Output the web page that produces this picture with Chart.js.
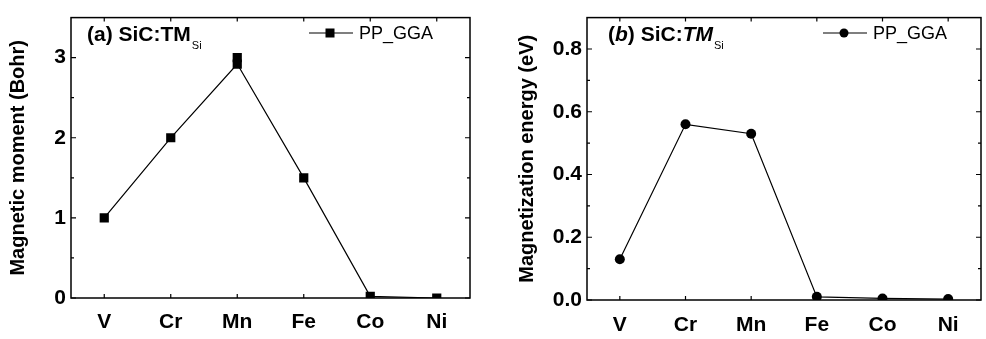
<!DOCTYPE html>
<html>
<head>
<meta charset="utf-8">
<script src="https://cdn.jsdelivr.net/npm/chart.js@4"></script>
<style>
  html, body { margin: 0; padding: 0; background: #fff; }
  .panel { position: absolute; top: 0; height: 339px; }
  #wrapA { left: 0; width: 493px; }
  #wrapB { left: 493px; width: 493px; }
</style>
</head>
<body>
<div class="panel" id="wrapA"><canvas id="chartA"></canvas></div>
<div class="panel" id="wrapB"><canvas id="chartB"></canvas></div>
<script>
const elements = ["V", "Cr", "Mn", "Fe", "Co", "Ni"];
const momentGGA = [1.0, 2.0, 2.92, 1.5, 0.02, 0.0];
const momentMnUpper = [null, null, 3.0, null, null, null];
const energyGGA = [0.13, 0.56, 0.53, 0.01, 0.005, 0.003];
const momentTicks = [0, 1, 2, 3];
const momentMinorTicks = [0.5, 1.5, 2.5];
const energyTicks = [0, 0.2, 0.4, 0.6, 0.8];
const energyMinorTicks = [0.1, 0.3, 0.5, 0.7];

const FONT = "'Liberation Sans', Arial, sans-serif";
Chart.defaults.font.family = FONT;
Chart.defaults.color = "#000";

// frame, inward tick marks, panel label and line+marker legend
const framePlugin = {
    id: "frame",
    afterDraw(chart, args, opts) {
        const ctx = chart.ctx;
        const a = chart.chartArea;
        const x = chart.scales.x, y = chart.scales.y;
        ctx.save();
        ctx.strokeStyle = "#000";
        ctx.lineWidth = 1.5;
        ctx.strokeRect(a.left, a.top, a.right - a.left, a.bottom - a.top);
        ctx.lineWidth = 1.2;
        ctx.beginPath();
        opts.major.forEach(v => {
            const py = y.getPixelForValue(v);
            ctx.moveTo(a.left, py); ctx.lineTo(a.left + 5, py);
            ctx.moveTo(a.right, py); ctx.lineTo(a.right - 5, py);
        });
        opts.minor.forEach(v => {
            const py = y.getPixelForValue(v);
            ctx.moveTo(a.left, py); ctx.lineTo(a.left + 3, py);
            ctx.moveTo(a.right, py); ctx.lineTo(a.right - 3, py);
        });
        elements.forEach((e, i) => {
            const px = x.getPixelForValue(i);
            ctx.moveTo(px, a.bottom); ctx.lineTo(px, a.bottom - 4);
            ctx.moveTo(px, a.top); ctx.lineTo(px, a.top + 4);
        });
        ctx.stroke();

        // panel label
        ctx.fillStyle = "#000";
        ctx.textBaseline = "alphabetic";
        ctx.textAlign = "left";
        const big = "bold 21px " + FONT;
        const it = opts.italic ? "italic " : "";
        let tx = opts.labelX;
        ctx.font = big;
        ctx.fillText("(", tx, 41);
        tx += ctx.measureText("(").width;
        ctx.font = it + big;
        ctx.fillText(opts.tag, tx, 41);
        tx += ctx.measureText(opts.tag).width;
        ctx.font = big;
        ctx.fillText(") SiC:", tx, 41);
        tx += ctx.measureText(") SiC:").width;
        ctx.font = it + big;
        ctx.fillText("TM", tx, 41);
        tx += ctx.measureText("TM").width + 1;
        ctx.font = "11px " + FONT;
        ctx.fillText("Si", tx, 49);

        // legend
        const ds = chart.data.datasets[0];
        const ly = 33;
        ctx.lineWidth = 1.2;
        ctx.beginPath();
        ctx.moveTo(opts.legendX, ly); ctx.lineTo(opts.legendX + 44, ly);
        ctx.stroke();
        const mx = opts.legendX + 21;
        if (ds.pointStyle === "rect") {
            ctx.fillRect(mx - 4.5, ly - 4.5, 9, 9);
        } else {
            ctx.beginPath(); ctx.arc(mx, ly, 4.5, 0, Math.PI * 2); ctx.fill();
        }
        ctx.font = "18px " + FONT;
        ctx.textBaseline = "middle";
        ctx.fillText(ds.label, opts.legendX + 50, ly + 1);
        ctx.restore();
    }
};

function makeChart(id, cfg) {
    return new Chart(document.getElementById(id), {
        type: "line",
        data: { labels: elements, datasets: cfg.datasets },
        options: {
            responsive: true,
            maintainAspectRatio: false,
            animation: false,
            layout: { padding: { top: 7, right: cfg.rightPad, left: 0, bottom: 0 } },
            plugins: { legend: { display: false }, tooltip: { enabled: false }, frame: cfg.frame },
            scales: {
                x: {
                    type: "category",
                    offset: true,
                    grid: { display: false, drawTicks: false },
                    border: { display: false },
                    ticks: { font: { size: 21, weight: "bold" }, padding: cfg.xPad, maxRotation: 0 },
                    afterFit: s => { s.height = cfg.xHeight; }
                },
                y: {
                    min: cfg.yMin,
                    max: cfg.yMax,
                    grid: { display: false, drawTicks: false },
                    border: { display: false },
                    title: { display: true, text: cfg.yTitle, font: { size: 20, weight: "bold" }, padding: { top: cfg.titlePad, bottom: 4 } },
                    ticks: { font: { size: 21, weight: "bold" }, padding: 5, callback: cfg.tickFmt },
                    afterBuildTicks: s => { s.ticks = cfg.yTicks.map(v => ({ value: v })); },
                    afterFit: s => { s.width = cfg.yWidth; }
                }
            }
        },
        plugins: [framePlugin]
    });
}

makeChart("chartA", {
    datasets: [
        { label: "PP_GGA", data: momentGGA, borderColor: "#000", borderWidth: 1.2, pointStyle: "rect",
          pointRadius: 6.5, backgroundColor: "#000", pointBorderWidth: 0 },
        { label: "PP_GGA", data: momentMnUpper, showLine: false, pointStyle: "rect",
          pointRadius: 6.5, backgroundColor: "#000", borderColor: "#000", pointBorderWidth: 0 }
    ],
    yMin: 0, yMax: 3.5, yTicks: momentTicks,
    yTitle: "Magnetic moment (Bohr)",
    tickFmt: v => String(v),
    yWidth: 71, xHeight: 41, xPad: 12, rightPad: 23, titlePad: 6,
    frame: { major: momentTicks, minor: momentMinorTicks, tag: "a", italic: false, labelX: 87, legendX: 309 }
});

makeChart("chartB", {
    datasets: [
        { label: "PP_GGA", data: energyGGA, borderColor: "#000", borderWidth: 1.2, pointStyle: "circle",
          pointRadius: 5, backgroundColor: "#000", pointBorderWidth: 0 }
    ],
    yMin: 0, yMax: 0.9, yTicks: energyTicks,
    yTitle: "Magnetization energy (eV)",
    tickFmt: v => Number(v).toFixed(1),
    yWidth: 94, xHeight: 39, xPad: 13, rightPad: 2, titlePad: 22,
    frame: { major: energyTicks, minor: energyMinorTicks, tag: "b", italic: true, labelX: 115, legendX: 330 }
});
</script>
</body>
</html>
